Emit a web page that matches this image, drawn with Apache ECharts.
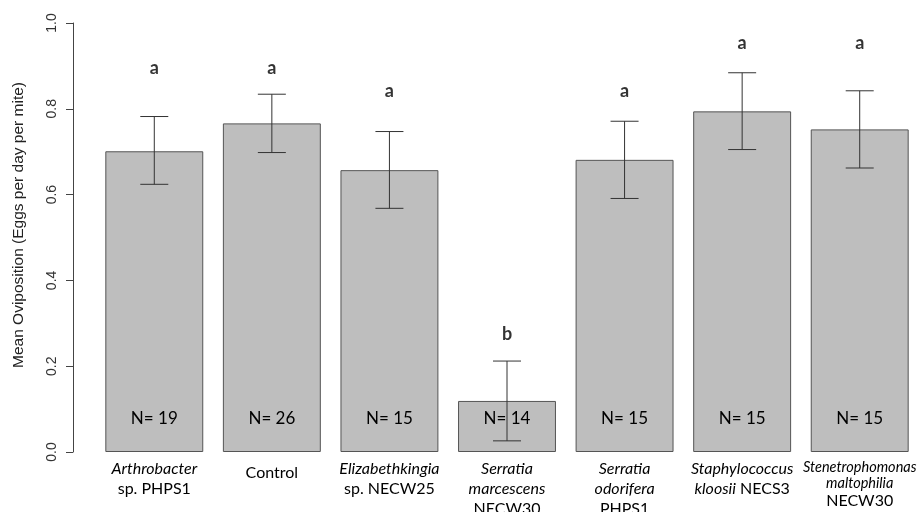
<!DOCTYPE html>
<html><head><meta charset="utf-8">
<script src="https://cdn.jsdelivr.net/npm/echarts@6/dist/echarts.min.js"></script>
<style>html,body{margin:0;padding:0;background:#fff}#c{width:919px;height:512px}</style>
</head><body><div id="c"></div>
<script>
// Data
const genus = ["Arthrobacter", "", "Elizabethkingia", "Serratia", "Serratia", "Staphylococcus", "Stenetrophomonas"];
const species = ["sp. PHPS1", "Control", "sp. NECW25", "marcescens", "odorifera", "kloosii", "maltophilia"];
const strain = ["", "", "", "NECW30", "PHPS1", "NECS3", "NECW30"];
const means = [0.701, 0.766, 0.657, 0.119, 0.681, 0.794, 0.752];
const errLow = [0.624, 0.698, 0.568, 0.026, 0.591, 0.705, 0.662];
const errHigh = [0.782, 0.834, 0.747, 0.212, 0.771, 0.884, 0.842];
const sampleN = [19, 26, 15, 14, 15, 15, 15];
const letters = ["a", "a", "a", "b", "a", "a", "a"];
const letterPos = [0.894, 0.894, 0.842, 0.275, 0.842, 0.952, 0.952];
const yTicks = [0, 0.2, 0.4, 0.6, 0.8, 1.0];
const yTitle = 'Mean Oviposition (Eggs per day per mite)';

const cats = genus.map((g, i) => "c" + i);
const catFont = 'Lato, "Open Sans", sans-serif';

function catLabel(v, idx) {
  const i = idx;
  if (i === 1) return "{c|Control}";
  if (i === 0 || i === 2) return "{it|" + genus[i] + "}\n{n|" + species[i] + "}";
  if (i === 3 || i === 4) return "{it|" + genus[i] + "}\n{it|" + species[i] + "}\n{n|" + strain[i] + "}";
  if (i === 5) return "{it|" + genus[i] + "}\n{it|" + species[i] + "}{n| " + strain[i] + "}";
  return "{its|" + genus[i] + "}\n{its|" + species[i] + "}\n{ns|" + strain[i] + "}";
}

const chart = echarts.init(document.getElementById('c'), null, {renderer: 'canvas'});
chart.setOption({
  animation: false,
  backgroundColor: '#fff',
  grid: {left: 95.5, right: 0.5, top: 23, bottom: 60, containLabel: false, outerBoundsMode: 'none'},
  graphic: [{
    type: 'text', x: 18.5, y: 225, rotation: Math.PI / 2,
    style: {
      text: yTitle, textAlign: 'center', textVerticalAlign: 'middle',
      font: '15.5px "Liberation Sans", Arial, sans-serif', fill: '#222'
    }
  }],
  xAxis: {
    type: 'category', data: cats,
    axisLine: {show: false}, axisTick: {show: false},
    axisLabel: {
      interval: 0, margin: 7, formatter: catLabel,
      rich: {
        it: {fontFamily: catFont, fontStyle: 'italic', fontSize: 16, lineHeight: 20, color: '#000'},
        n: {fontFamily: catFont, fontSize: 16, lineHeight: 20, color: '#000'},
        c: {fontFamily: catFont, fontSize: 16, lineHeight: 20, color: '#000', padding: [8, 0, 0, 0]},
        its: {fontFamily: catFont, fontStyle: 'italic', fontSize: 14.5, lineHeight: 16, color: '#000'},
        ns: {fontFamily: catFont, fontSize: 16, lineHeight: 20, color: '#000'}
      }
    }
  },
  yAxis: {
    type: 'value', min: 0, max: 1, interval: 0.2, offset: 22.5,
    axisLine: {show: true, lineStyle: {color: '#444', width: 1}},
    axisTick: {show: true, length: 7, lineStyle: {color: '#444'}},
    splitLine: {show: false},
    axisLabel: {
      rotate: 90, margin: 14, fontFamily: '"Liberation Sans", Arial, sans-serif', fontSize: 14, color: '#333',
      formatter: v => yTicks.includes(+v.toFixed(1)) ? v.toFixed(1) : ''
    }
  },
  series: [
    {
      type: 'bar', data: means, barWidth: '83.3%',
      itemStyle: {color: '#bebebe', borderColor: '#555', borderWidth: 1},
      label: {
        show: true, position: 'insideBottom', distance: 25,
        formatter: p => 'N= ' + sampleN[p.dataIndex],
        fontFamily: catFont, fontSize: 17, color: '#000'
      },
      z: 2
    },
    {
      type: 'custom', z: 5,
      data: means.map((m, i) => [i, errLow[i], errHigh[i]]),
      renderItem: (params, api) => {
        const lo = api.coord([api.value(0), api.value(1)]);
        const hi = api.coord([api.value(0), api.value(2)]);
        const hw = 14;
        const st = {stroke: '#333', lineWidth: 1};
        return {type: 'group', children: [
          {type: 'line', shape: {x1: lo[0], y1: lo[1], x2: hi[0], y2: hi[1]}, style: st},
          {type: 'line', shape: {x1: lo[0] - hw, y1: lo[1], x2: lo[0] + hw, y2: lo[1]}, style: st},
          {type: 'line', shape: {x1: hi[0] - hw, y1: hi[1], x2: hi[0] + hw, y2: hi[1]}, style: st}
        ]};
      }
    },
    {
      type: 'scatter', symbolSize: 0, z: 6,
      data: letterPos.map((y, i) => [i, y]),
      label: {
        show: true, position: 'inside',
        formatter: p => letters[p.dataIndex],
        fontFamily: catFont, fontWeight: 'bold', fontSize: 18, color: '#000'
      }
    }
  ]
});
</script></body></html>
